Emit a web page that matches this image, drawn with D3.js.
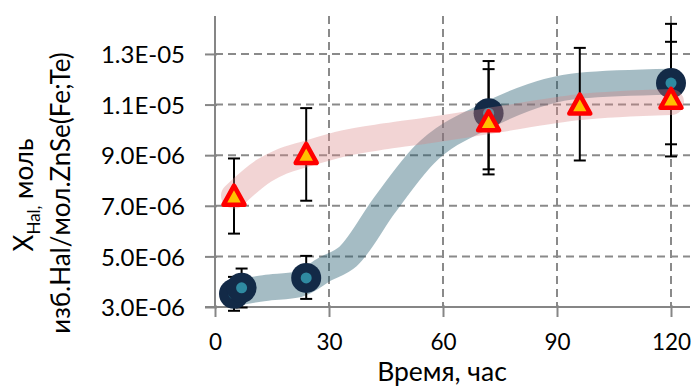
<!DOCTYPE html>
<html><head><meta charset="utf-8">
<script src="https://cdn.jsdelivr.net/npm/d3@7"></script>
<style>html,body{margin:0;padding:0;background:#fff;}svg{display:block;}</style>
</head><body>
<svg id="c" width="696" height="388"></svg>
<script>
// ---- data ----
const xTicks = [0, 30, 60, 90, 120];
const yTicks = [3e-6, 5e-6, 7e-6, 9e-6, 1.1e-5, 1.3e-5];
const yTickLabels = ["3.0E-06", "5.0E-06", "7.0E-06", "9.0E-06", "1.1E-05", "1.3E-05"];

// series 1 (circles)
const circX = [5, 7, 24, 72, 120];
const circY = [3.52e-6, 3.76e-6, 4.15e-6, 1.066e-5, 1.185e-5];
const circLo = [2.85e-6, 2.98e-6, 3.32e-6, 8.44e-6, 9.43e-6];
const circHi = [4.19e-6, 4.52e-6, 5.02e-6, 1.272e-5, 1.419e-5];

// series 2 (triangles)
const triX = [5, 24, 72, 96, 120];
const triY = [7.4e-6, 9.05e-6, 1.034e-5, 1.10e-5, 1.123e-5];
const triLo = [5.9e-6, 7.2e-6, 8.24e-6, 8.79e-6, 8.95e-6];
const triHi = [8.87e-6, 1.086e-5, 1.24e-5, 1.324e-5, 1.348e-5];

// trend bands
const blueTX = [5, 13, 22, 29, 35, 44.5, 55, 72, 96, 120];
const blueTY = [3.55e-6, 3.75e-6, 3.9e-6, 4.5e-6, 5.0e-6, 7.0e-6, 9.0e-6, 1.06e-5, 1.175e-5, 1.19e-5];
const pinkTX = [5, 13, 17.6, 24, 34, 45, 57, 72, 96, 120];
const pinkTY = [7.4e-6, 8.4e-6, 8.75e-6, 9.05e-6, 9.47e-6, 9.75e-6, 1.0e-5, 1.035e-5, 1.09e-5, 1.11e-5];

// ---- chart ----
const svg = d3.select("#c");
const font = "Lato, 'Open Sans', sans-serif";
const x = d3.scaleLinear().domain([0, 125]).range([215, 690]);
const y = d3.scaleLinear().domain([3e-6, 1.45e-5]).range([307, 16]);

const grid = svg.append("g").attr("stroke", "#8a8a8a").attr("stroke-width", 2).attr("stroke-dasharray", "8,5");
grid.selectAll("line.h").data(yTicks.slice(1)).enter().append("line")
  .attr("x1", x(0)).attr("x2", x(125)).attr("y1", d => y(d)).attr("y2", d => y(d));
grid.selectAll("line.v").data(xTicks.slice(1)).enter().append("line")
  .attr("y1", y(1.45e-5)).attr("y2", y(3e-6)).attr("x1", d => x(d)).attr("x2", d => x(d));

// axes
const xAxis = d3.axisBottom(x).tickValues(xTicks).tickSize(10).tickSizeOuter(0);
const gx = svg.append("g").attr("transform", `translate(0,${y(3e-6)})`).call(xAxis);
gx.select(".domain").attr("stroke", "#868686").attr("stroke-width", 2).attr("d", `M205,0H690`);
gx.selectAll(".tick line").attr("stroke", "#868686").attr("stroke-width", 2).attr("y1", -2);
gx.selectAll(".tick text").attr("font-family", font).attr("font-size", 22.5).attr("fill", "#000").attr("dy", 0).attr("y", 43);

const yAxis = d3.axisLeft(y).tickValues(yTicks).tickSize(10).tickSizeOuter(0).tickFormat((d, i) => yTickLabels[i]);
const gy = svg.append("g").attr("transform", `translate(${x(0)},0)`).call(yAxis);
gy.select(".domain").attr("stroke", "#868686").attr("stroke-width", 2).attr("d", `M0,${y(1.45e-5)}V${y(3e-6)}`);
gy.selectAll(".tick line").attr("stroke", "#868686").attr("stroke-width", 2).attr("x2", -10).attr("x1", 2);
gy.selectAll(".tick text").attr("font-family", font).attr("font-size", 24).attr("fill", "#000").attr("x", -30).attr("dy", "0.36em");

// blue band
const line = d3.line().curve(d3.curveMonotoneX);
svg.append("path").attr("d", line(blueTX.map((v, i) => [x(v), y(blueTY[i])])))
  .attr("fill", "none").attr("stroke", "rgba(30,88,107,0.4)").attr("stroke-width", 26).attr("stroke-linecap", "round");

// error bars
function errBars(xs, lo, hi) {
  const g = svg.append("g").attr("stroke", "#000").attr("stroke-width", 2);
  xs.forEach((v, i) => {
    const cx = x(v);
    g.append("line").attr("x1", cx).attr("x2", cx).attr("y1", y(lo[i])).attr("y2", y(hi[i]));
    g.append("line").attr("x1", cx - 6).attr("x2", cx + 6).attr("y1", y(lo[i])).attr("y2", y(lo[i]));
    g.append("line").attr("x1", cx - 6).attr("x2", cx + 6).attr("y1", y(hi[i])).attr("y2", y(hi[i]));
  });
}
errBars(circX, circLo, circHi);
errBars(triX, triLo, triHi);

// circles
const gc = svg.append("g");
circX.forEach((v, i) => {
  gc.append("circle").attr("cx", x(v)).attr("cy", y(circY[i])).attr("r", 15).attr("fill", "#132a47");
  gc.append("circle").attr("cx", x(v)).attr("cy", y(circY[i])).attr("r", 5.5).attr("fill", "#2f8aa1");
});

// pink band
svg.append("path").attr("d", line(pinkTX.map((v, i) => [x(v), y(pinkTY[i])])))
  .attr("fill", "none").attr("stroke", "rgba(218,132,132,0.35)").attr("stroke-width", 26).attr("stroke-linecap", "round");

// triangles
const gt = svg.append("g");
triX.forEach((v, i) => {
  const cx = x(v), cy = y(triY[i]);
  gt.append("path").attr("d", `M${cx},${cy - 10}L${cx + 10.5},${cy + 9}L${cx - 10.5},${cy + 9}Z`)
    .attr("fill", "#ffc000").attr("stroke", "#ff0000").attr("stroke-width", 4.5).attr("stroke-linejoin", "round");
});

// axis titles
svg.append("text").attr("x", 442).attr("y", 381).attr("text-anchor", "middle")
  .attr("font-family", font).attr("font-size", 26.5).attr("fill", "#000").text("Время, час");

const t1 = svg.append("text").attr("transform", "translate(33,195) rotate(-90)").attr("text-anchor", "middle")
  .attr("font-family", font).attr("font-size", 26).attr("fill", "#000");
t1.append("tspan").text("X");
t1.append("tspan").attr("font-size", 17).attr("dy", 7).text("Hal,");
t1.append("tspan").attr("dy", -7).text(" моль");
svg.append("text").attr("transform", "translate(70,193) rotate(-90)").attr("text-anchor", "middle")
  .attr("font-family", font).attr("font-size", 26).attr("fill", "#000").text("изб.Hal/мол.ZnSe(Fe;Te)");
</script>
</body></html>
